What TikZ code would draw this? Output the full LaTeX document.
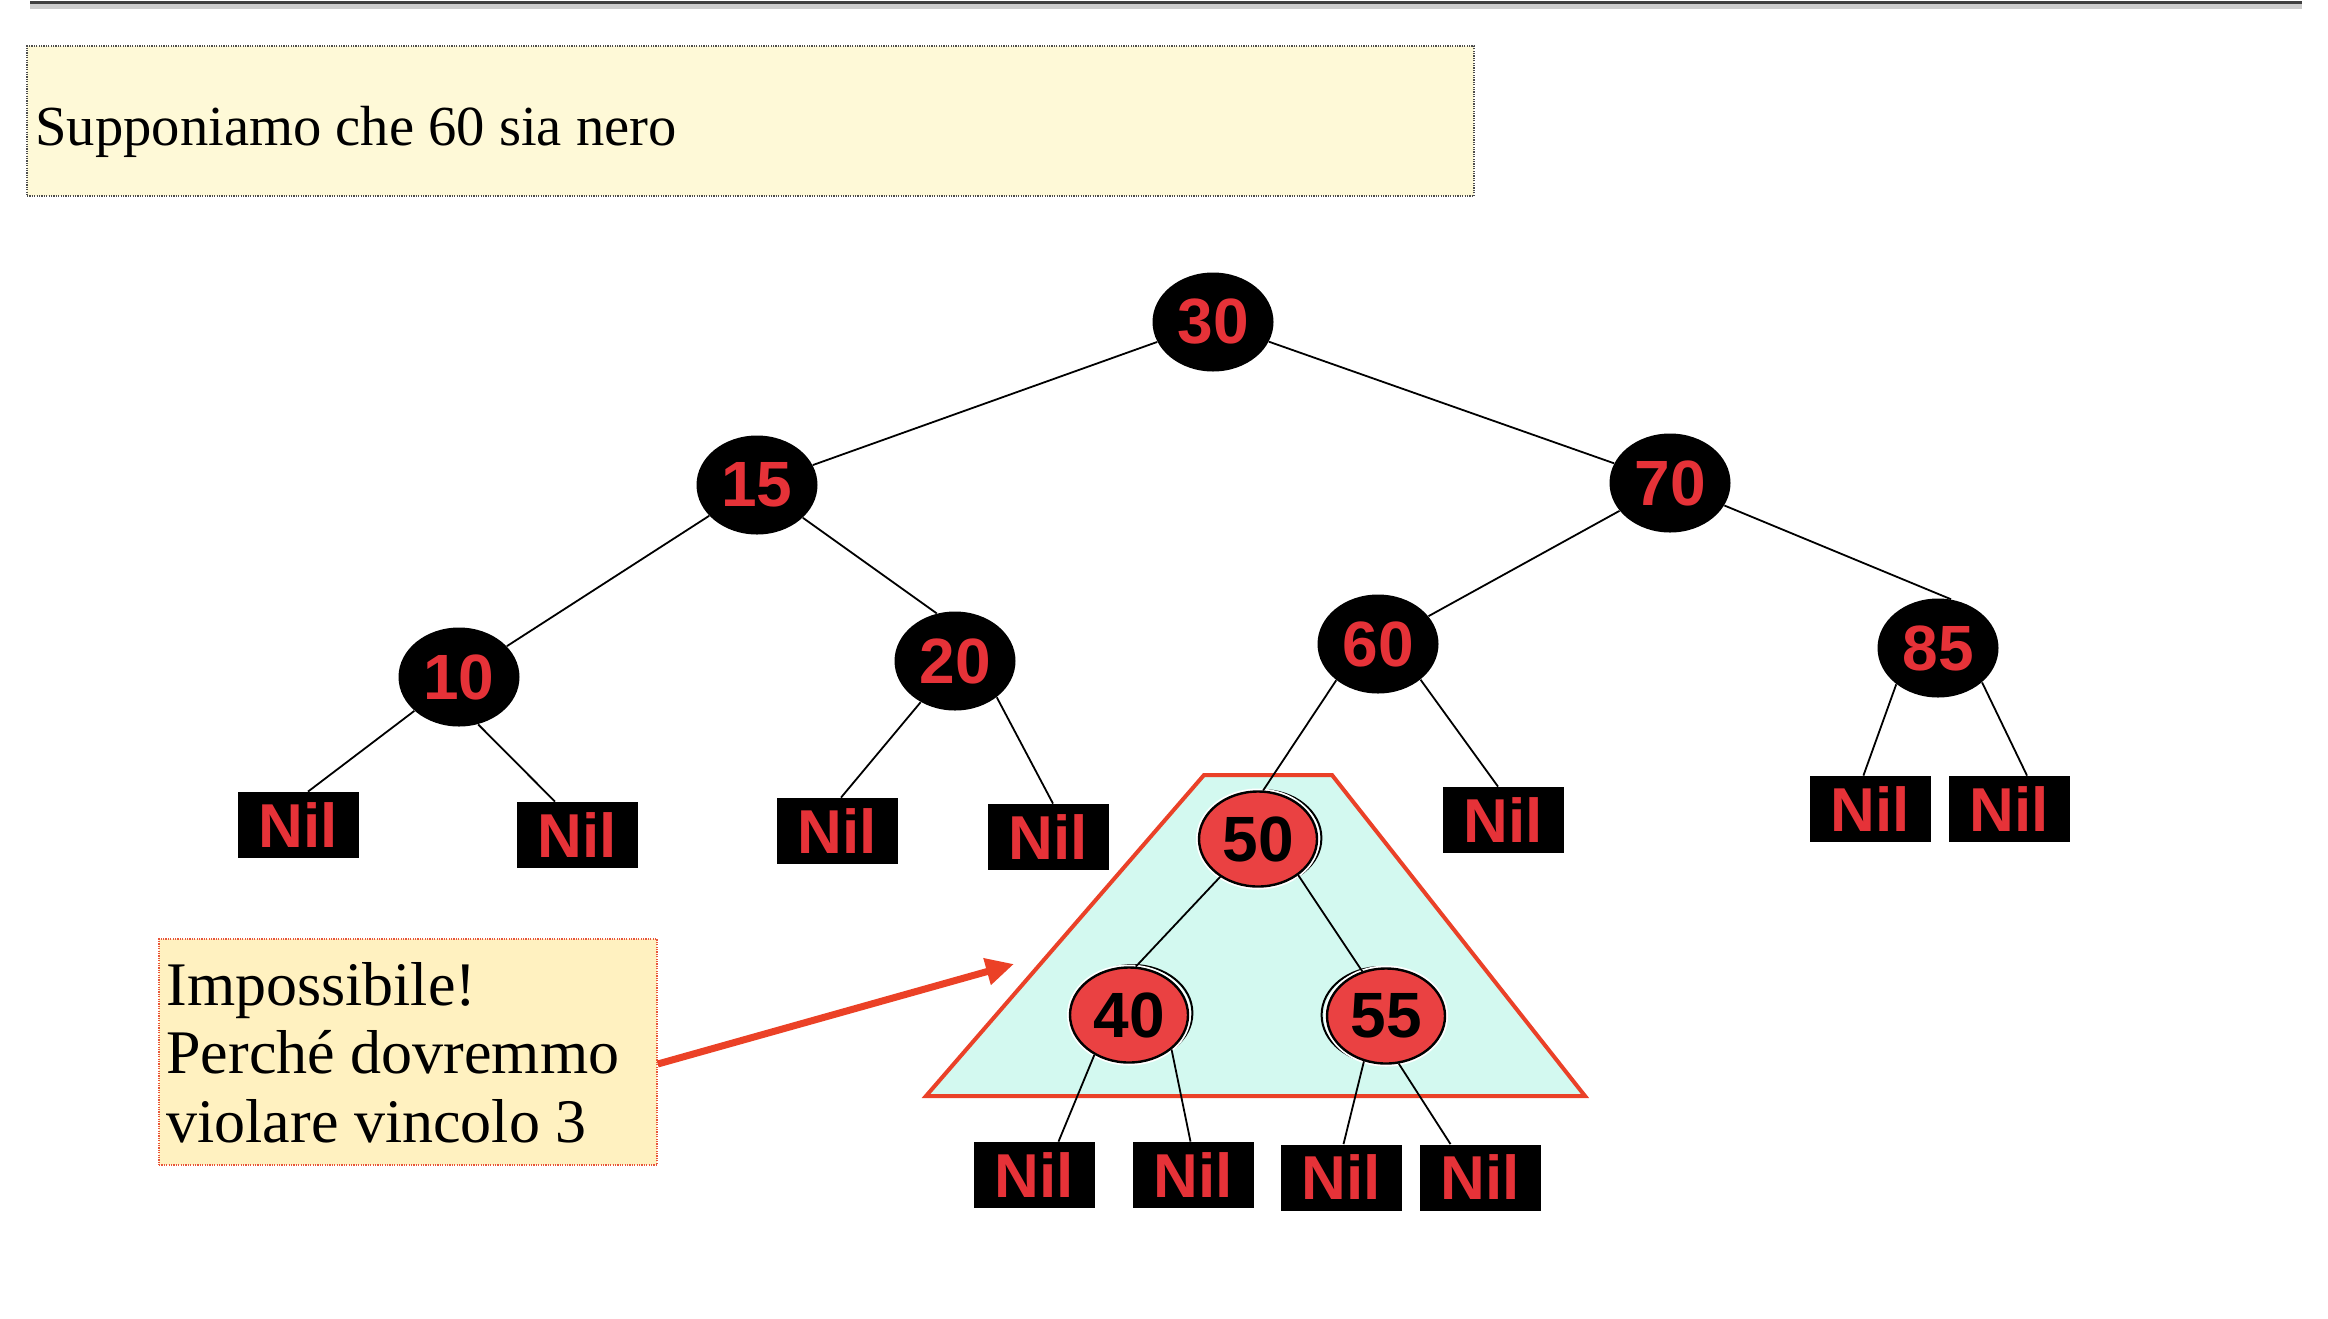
\documentclass[tikz,border=0pt]{standalone}
\usepackage{fontspec}
\setmainfont{Liberation Serif}
\newfontfamily\nodefont{Liberation Sans}
\usetikzlibrary{shapes.geometric,arrows.meta}
\definecolor{nodered}{HTML}{E63238}
\definecolor{fillred}{HTML}{EA4142}
\definecolor{trapfill}{HTML}{D3F9F0}
\definecolor{trapline}{HTML}{EA4128}
\definecolor{topfill}{HTML}{FEF9D7}
\definecolor{callfill}{HTML}{FFF1C0}
\definecolor{callline}{HTML}{E8553A}
\definecolor{arrowred}{HTML}{EB4126}
\begin{document}
\begin{tikzpicture}[x=0.5pt,y=-0.5pt,
  blacknode/.style={ellipse, fill=black, minimum width=60.5pt, minimum height=49.5pt, inner sep=0pt,
    text=nodered, font=\nodefont\bfseries\fontsize{32pt}{36pt}\selectfont},
  rednode/.style={ellipse, fill=fillred, draw=black, line width=1.2pt,
    preaction={draw=white,line width=3pt},
    minimum width=59pt, minimum height=47.5pt, inner sep=0pt,
    text=black, font=\nodefont\bfseries\fontsize{32pt}{36pt}\selectfont},
  redring/.style={draw=black, line width=1pt},
  nilbox/.style={rectangle, fill=black, minimum width=60.5pt, minimum height=33pt, inner sep=0pt,
    text=nodered, font=\nodefont\bfseries\fontsize{31pt}{34pt}\selectfont},
  edge/.style={draw=black, line width=0.9pt},
  topbox/.style={rectangle, fill=topfill, draw=black!70, line width=0.75pt,
    dash pattern=on 0.6pt off 0.6pt, minimum width=723.5pt, minimum height=75pt, inner sep=0pt},
  callbox/.style={rectangle, fill=callfill, draw=callline, line width=0.75pt,
    dash pattern=on 0.6pt off 0.6pt, minimum width=249pt, minimum height=113pt, inner sep=0pt},
  toptext/.style={anchor=base west, inner sep=0pt, font=\fontsize{28.3pt}{32pt}\selectfont},
  calltext/.style={anchor=base west, inner sep=0pt, font=\fontsize{31pt}{35pt}\selectfont},
  trap/.style={fill=trapfill, draw=trapline, line width=2pt, line join=miter},
  arrowstyle/.style={draw=arrowred, line width=3.5pt, -{Triangle[length=14pt,width=13pt]}}
]
\useasboundingbox (0,0) rectangle (2328,1318);

% top rule with shadow
\draw[line width=3pt, black!20] (30,6) -- (2302,6);
\draw[line width=1.5pt, black!75] (30,2) -- (2302,2);

% top statement box
\node[topbox] (top) at (750.5,121) {};
\node[toptext] (toptxt) at (35,145) {Supponiamo che 60 sia nero};

% highlighted subtree
\draw[trap] (1204,775) -- (1332,775) -- (1585,1096) -- (926,1096) -- cycle;

% black nodes
\node[blacknode] (n30) at (1213,322) {30};
\node[blacknode] (n15) at (757,485) {15};
\node[blacknode] (n70) at (1670,483) {70};
\node[blacknode] (n10) at (459,677) {10};
\node[blacknode] (n20) at (955,661) {20};
\node[blacknode] (n60) at (1378,644) {60};
\node[blacknode] (n85) at (1938,648) {85};

% red nodes with offset rings
\draw[redring] (1262,838) ellipse [x radius=29.7pt, y radius=24pt];
\draw[redring] (1133,1013) ellipse [x radius=29.7pt, y radius=24pt];
\draw[redring] (1381,1015) ellipse [x radius=29.7pt, y radius=24pt];
\node[rednode] (n50) at (1258,839) {50};
\node[rednode] (n40) at (1129,1015) {40};
\node[rednode] (n55) at (1386,1016) {55};

% Nil leaves
\node[nilbox] (nA) at (298,825) {Nil};
\node[nilbox] (nB) at (577,835) {Nil};
\node[nilbox] (nC) at (837,831) {Nil};
\node[nilbox] (nD) at (1048,837) {Nil};
\node[nilbox] (nE) at (1503,820) {Nil};
\node[nilbox] (nF) at (1870,809) {Nil};
\node[nilbox] (nG) at (2009,809) {Nil};
\node[nilbox] (nH) at (1034.5,1175) {Nil};
\node[nilbox] (nI) at (1193.5,1175) {Nil};
\node[nilbox] (nJ) at (1341.5,1177.5) {Nil};
\node[nilbox] (nK) at (1480.5,1177.5) {Nil};

% edges
\draw[edge] (n30) -- (n15);
\draw[edge] (n30) -- (n70);
\draw[edge] (n15) -- (n10);
\draw[edge] (n15) -- (n20.111);
\draw[edge] (n70) -- (n60);
\draw[edge] (n70) -- (n85.75);
\draw[edge] (n60.221) -- (n50.84);
\draw[edge] (n50.225) -- (n40.82);
\draw[edge] (n50.318) -- (n55.118);
\draw[edge] (n10) -- ([xshift=5pt]nA.north);
\draw[edge] (n10.292) -- ([xshift=-11pt]nB.north);
\draw[edge] (n20) -- ([xshift=2pt]nC.north);
\draw[edge] (n20.319) -- ([xshift=2.5pt]nD.north);
\draw[edge] (n60.320) -- ([xshift=-2.5pt]nE.north);
\draw[edge] (n85.221) -- ([xshift=-3.3pt]nF.north);
\draw[edge] (n85.322) -- ([xshift=9pt]nG.north);
\draw[edge] (n40.229) -- ([xshift=12pt]nH.north);
\draw[edge] (n40.321) -- ([xshift=-1.5pt]nI.north);
\draw[edge] (n55.244) -- ([xshift=1pt]nJ.north);
\draw[edge] (n55.285) -- ([xshift=-15pt]nK.north);

% callout
\node[callbox] (callout) at (408,1052) {};
\node[calltext] (c1) at (166,1005) {Impossibile!};
\node[calltext] (c2) at (166,1073) {Perché dovremmo};
\node[calltext] (c3) at (166,1142) {violare vincolo 3};
\coordinate (arrowtip) at (1014,964);
\draw[arrowstyle] ([yshift=-6pt]callout.east) -- (arrowtip);
\end{tikzpicture}
\end{document}
